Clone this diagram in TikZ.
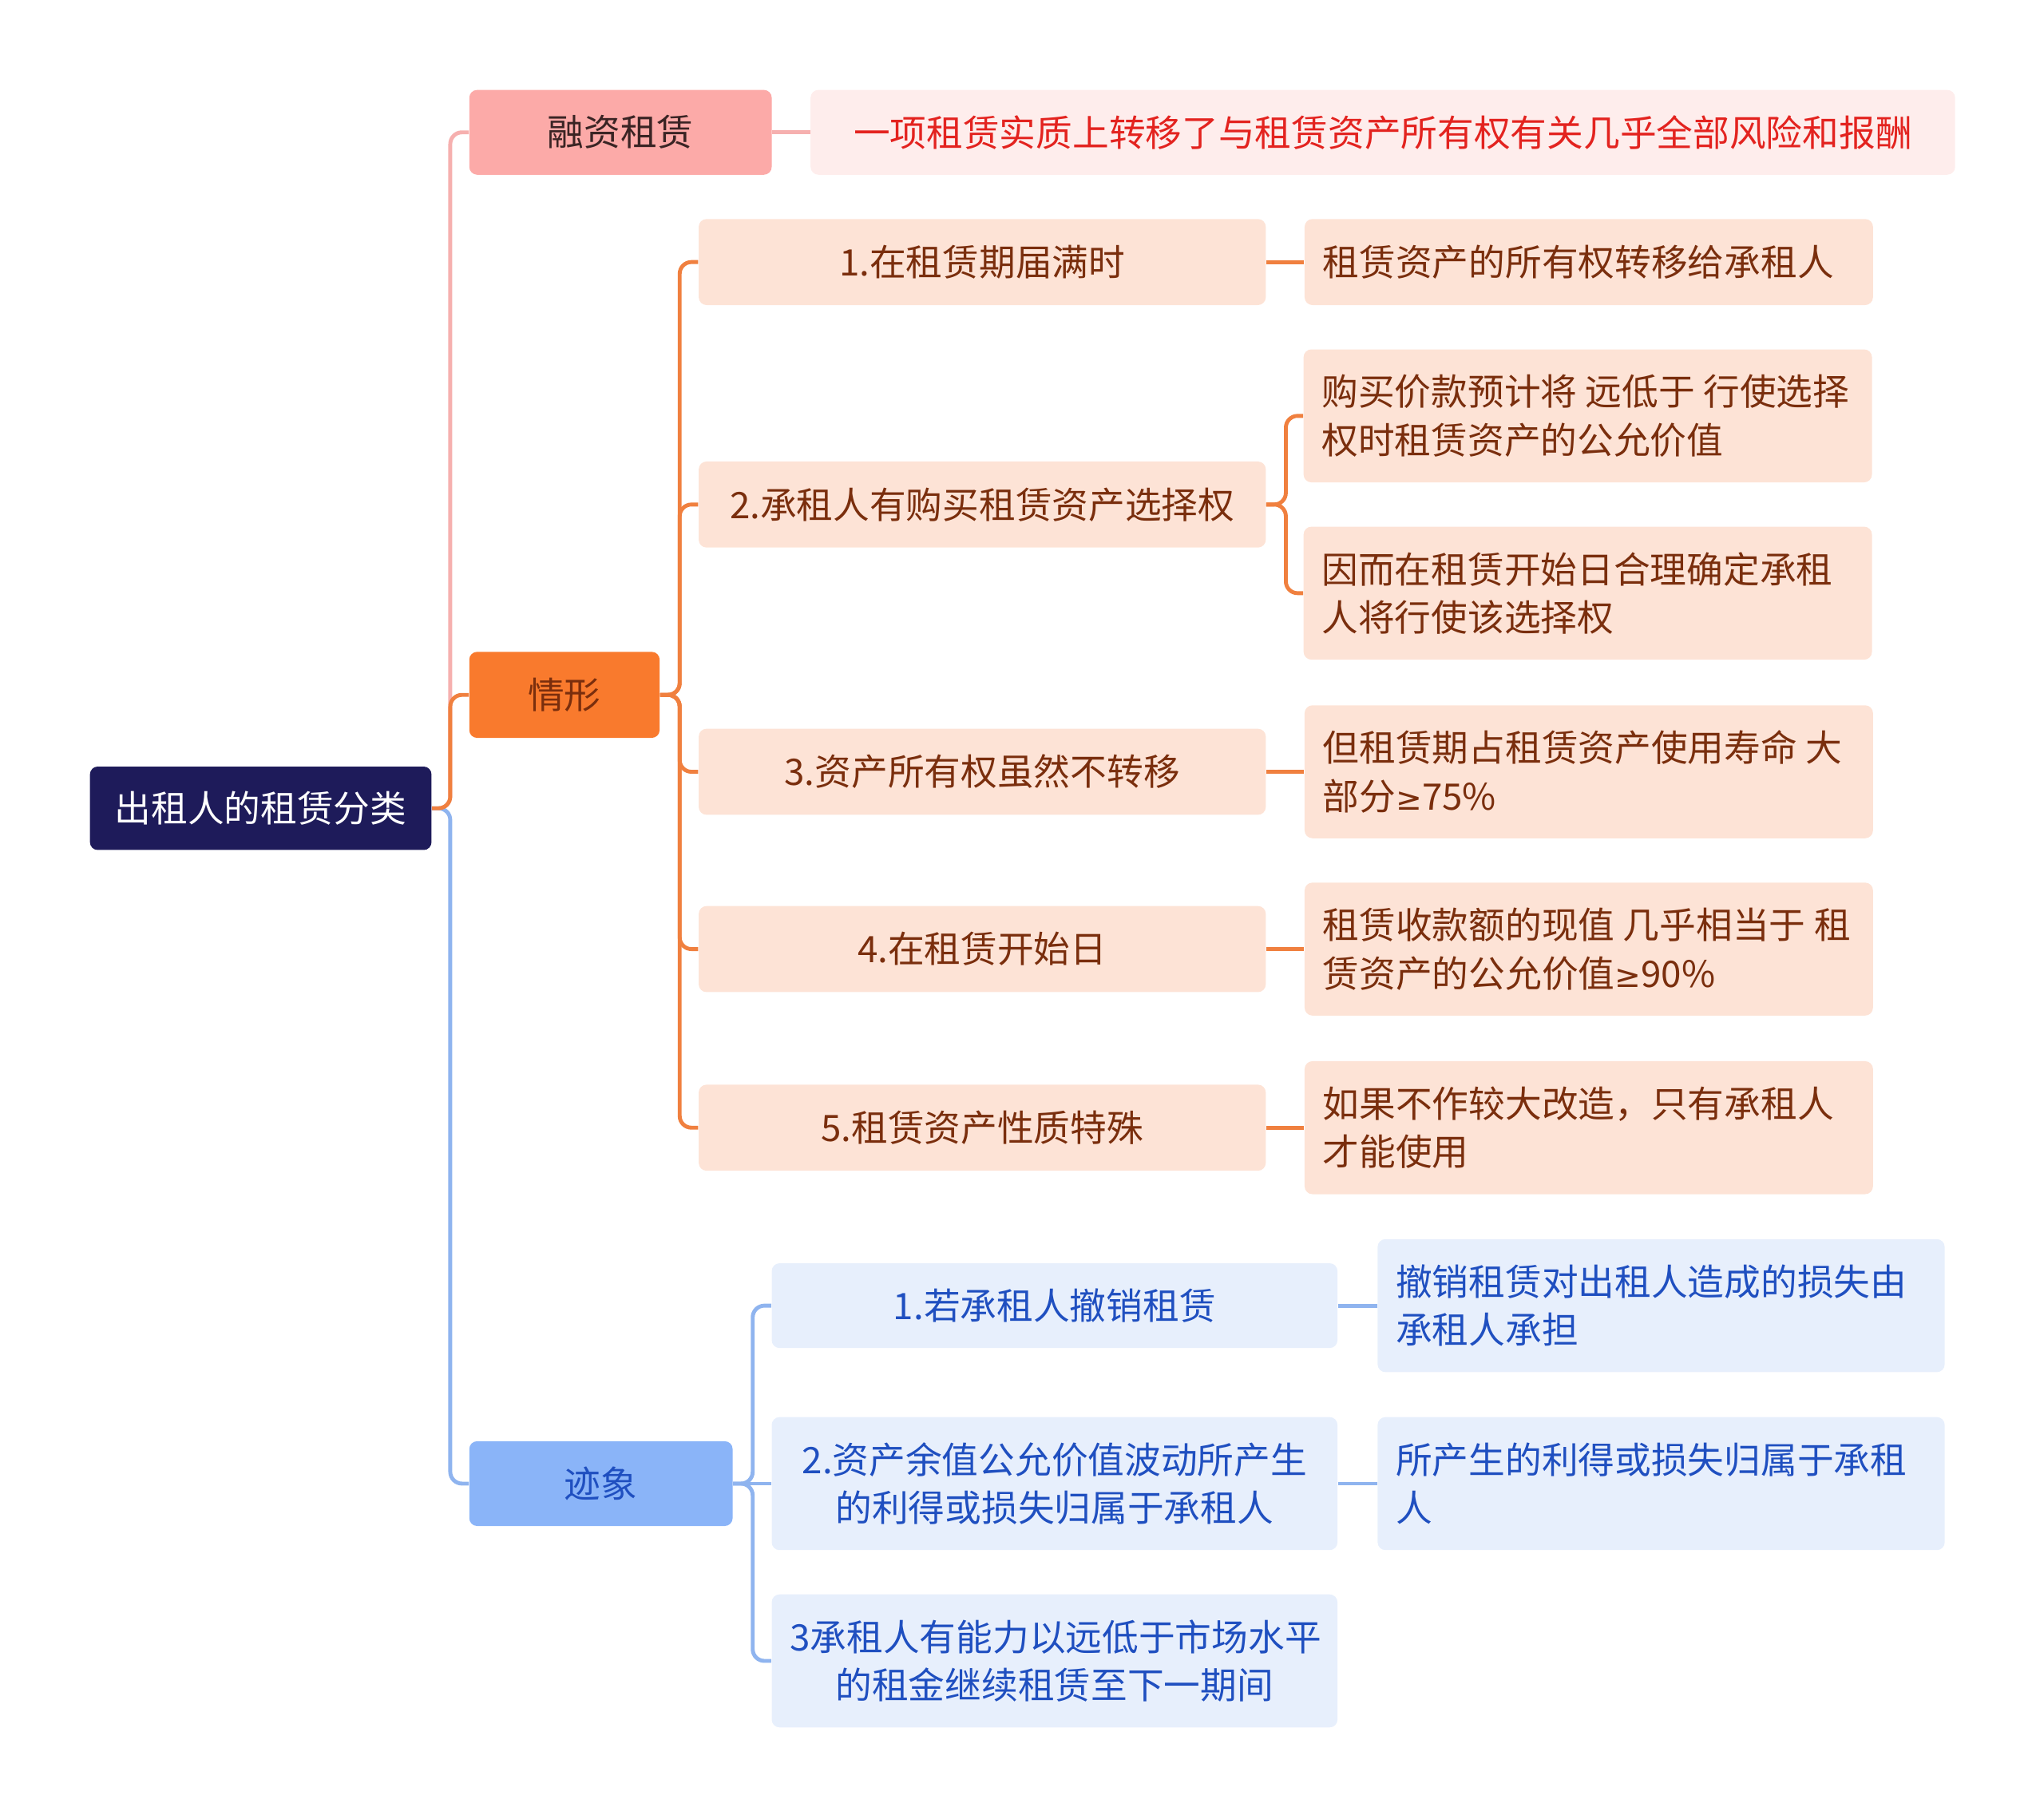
\documentclass[tikz,border=0pt]{standalone}
\usepackage{fontspec}
\setmainfont{Noto Sans CJK SC}
\newfontfamily\symfont{DejaVu Sans}
\usepackage{tikz}
\usetikzlibrary{
    positioning
}
\definecolor{rootnavy}{HTML}{1E1B5A}
\definecolor{pinkfill}{HTML}{FCAAA8}
\definecolor{pinkline}{HTML}{F6B0AF}
\definecolor{pinklight}{HTML}{FEEDEC}
\definecolor{redtext}{HTML}{E3231F}
\definecolor{pinktext}{HTML}{3A2424}
\definecolor{orangefill}{HTML}{F97A2D}
\definecolor{orangeline}{HTML}{F0803F}
\definecolor{orangelight}{HTML}{FDE3D6}
\definecolor{browntext}{HTML}{7A2E0D}
\definecolor{bluefill}{HTML}{8AB4F8}
\definecolor{blueline}{HTML}{8FB4EF}
\definecolor{bluelight}{HTML}{E7EFFC}
\definecolor{bluetext}{HTML}{1F4FC0}
\newcommand{\gap}{\kern3.2pt}
\newcommand{\geqsign}{{\symfont\fontsize{12pt}{18.5pt}\selectfont ≥}}
\tikzset{
    box/.style={
        rectangle,
        rounded corners=3pt,
        inner sep=0pt,
        font=\fontsize{14pt}{18.5pt}\selectfont
    },
    rootbox/.style={
        box,
        fill=rootnavy,
        text=white,
        minimum width=131pt,
        minimum height=32pt
    },
    pinkbox/.style={
        box,
        fill=pinkfill,
        text=pinktext,
        minimum width=116pt,
        minimum height=32.5pt
    },
    pinkdesc/.style={
        box,
        fill=pinklight,
        text=redtext,
        minimum width=439pt,
        minimum height=32.5pt
    },
    orangebox/.style={
        box,
        fill=orangefill,
        text=browntext,
        minimum width=73pt,
        minimum height=33pt
    },
    orangeitem/.style={
        box,
        fill=orangelight,
        text=browntext,
        minimum width=217.5pt,
        minimum height=33pt
    },
    orangeleaf/.style={
        box,
        fill=orangelight,
        text=browntext,
        align=left,
        text width=204pt,
        inner xsep=7pt,
        minimum height=51pt
    },
    bluebox/.style={
        box,
        fill=bluefill,
        text=bluetext,
        minimum width=101pt,
        minimum height=32.5pt
    },
    blueitem/.style={
        box,
        fill=bluelight,
        text=bluetext,
        align=center,
        text width=203pt,
        inner xsep=7pt,
        minimum height=51pt
    },
    blueleaf/.style={
        box,
        fill=bluelight,
        text=bluetext,
        align=left,
        text width=203.5pt,
        inner xsep=7pt,
        minimum height=51pt
    },
    link/.style={
        line width=1.5pt,
        rounded corners=4.5pt
    }
}

\begin{document}
\begin{tikzpicture}[x=0.5pt, y=-0.5pt, node distance=14.5pt]
\useasboundingbox (0,0) rectangle (1568,1395);

% root and first level
\node[rootbox] (root) at (200,620) {出租人的租赁分类};
\node[pinkbox] (finance) at (476,101.5) {融资租赁};
\node[pinkdesc, right=of finance] (financedef) {一项租赁实质上转移了与租赁资产所有权有关几乎全部风险和报酬};
\node[orangebox] (cases) at (433,533) {情形};
\node[bluebox] (signs) at (461,1138) {迹象};

% cases
\node[orangeitem] (case1) at (753.5,201) {1.在租赁期届满时};
\node[orangeitem] (case2) at (753.5,387) {2.承租人有购买租赁资产选择权};
\node[orangeitem] (case3) at (753.5,592) {3.资产所有权虽然不转移};
\node[orangeitem] (case4) at (753.5,728) {4.在租赁开始日};
\node[orangeitem] (case5) at (753.5,865) {5.租赁资产性质特殊};

\node[orangeleaf, minimum height=33pt, right=of case1] (case1a) {租赁资产的所有权转移给承租人};
\node[orangeleaf] (case2a) at (1218,319) {购买价款预计将\gap 远低于\gap 行使选择\\权时租赁资产的公允价值};
\node[orangeleaf] (case2b) at (1218,455) {因而在租赁开始日合理确定承租\\人将行使该选择权};
\node[orangeleaf, right=of case3] (case3a) {但租赁期占租赁资产使用寿命\gap 大\\部分\geqsign 75\%};
\node[orangeleaf, right=of case4] (case4a) {租赁收款额的现值\gap 几乎相当于\gap 租\\赁资产的公允价值\geqsign 90\%};
\node[orangeleaf, right=of case5] (case5a) {如果不作较大改造，只有承租人\\才能使用};

% signs
\node[blueitem, minimum height=32.5pt] (sign1) at (809,1001.5) {1.若承租人撤销租赁};
\node[blueitem] (sign2) at (809,1138) {2.资产余值公允价值波动所产生\\的利得或损失归属于承租人};
\node[blueitem] (sign3) at (809,1274) {3承租人有能力以远低于市场水平\\的租金继续租赁至下一期间};

\node[blueleaf, right=15pt of sign1] (sign1a) {撤销租赁对出租人造成的损失由\\承租人承担};
\node[blueleaf, right=15pt of sign2] (sign2a) {所产生的利得或损失归属于承租\\人};

% connectors
\draw[link, pinkline] (root.east) -- ++(14,0) |- (finance.west);
\draw[link, pinkline] (finance) -- (financedef);
\draw[link, blueline] (root.east) -- ++(14,0) |- (signs.west);
\draw[link, orangeline] (root.east) -- ++(14,0) |- (cases.west);

\foreach \c in {case1,case2,case3,case4,case5}
    \draw[link, orangeline] (cases.east) -- ++(15,0) |- (\c.west);
\draw[link, orangeline] (case1) -- (case1a);
\draw[link, orangeline] (case2.east) -- ++(15,0) |- (case2a.west);
\draw[link, orangeline] (case2.east) -- ++(15,0) |- (case2b.west);
\draw[link, orangeline] (case3) -- (case3a);
\draw[link, orangeline] (case4) -- (case4a);
\draw[link, orangeline] (case5) -- (case5a);

\foreach \s in {sign1,sign3}
    \draw[link, blueline] (signs.east) -- ++(15,0) |- (\s.west);
\draw[link, blueline] (signs) -- (sign2);
\draw[link, blueline] (sign1) -- (sign1a);
\draw[link, blueline] (sign2) -- (sign2a);
\end{tikzpicture}
\end{document}
